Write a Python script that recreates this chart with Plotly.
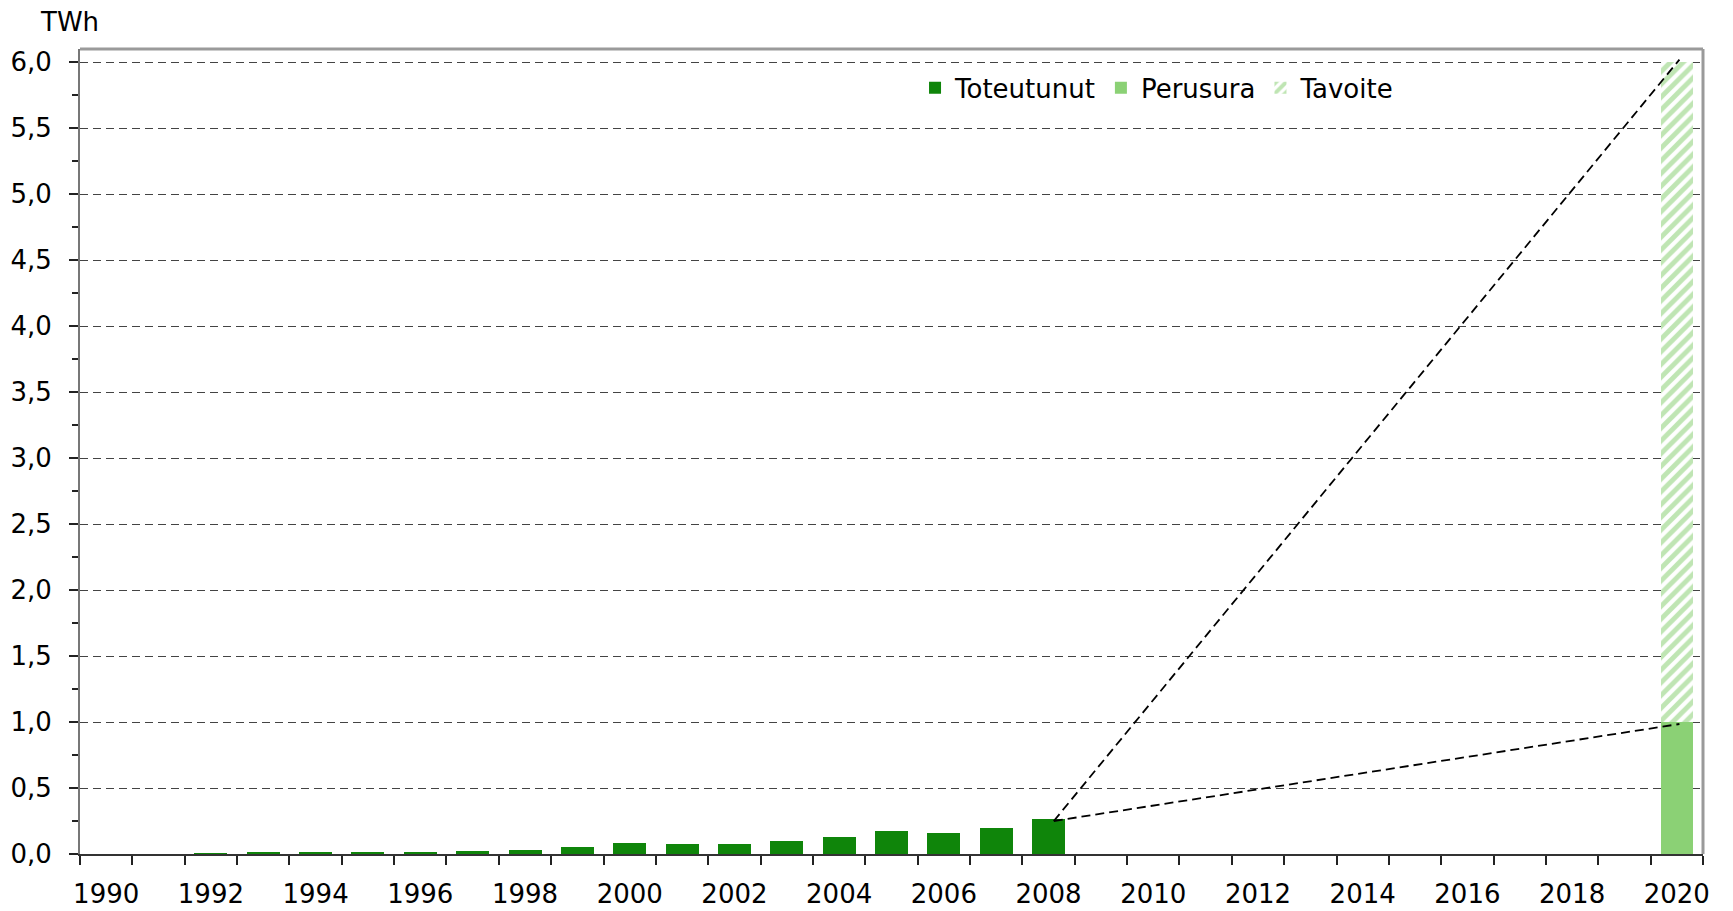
import plotly.graph_objects as go

# ---- data ----
years_actual = list(range(1992, 2009))
toteutunut = [0.007, 0.010, 0.013, 0.017, 0.018, 0.022, 0.028, 0.055, 0.086,
              0.078, 0.073, 0.101, 0.129, 0.174, 0.161, 0.194, 0.267]
year_target = [2020]
perusura = [1.0]
tavoite = [5.0]          # stacked on top of perusura -> 6.0
# dashed trend lines: start (2008 level) -> end (2020 levels)
line_x = [2008.1, 2020.05]
line_upper_y = [0.25, 6.02]
line_lower_y = [0.25, 0.985]
x_label_years = list(range(1990, 2021, 2))
x_tick_bounds = [y - 0.5 for y in range(1990, 2022)]
y_ticks = [i * 0.5 for i in range(13)]

DARK = "#0f850a"
LIGHT = "#8bd175"
FONT = "DejaVu Sans"
FS = 26

fig = go.Figure()
fig.add_trace(go.Bar(x=years_actual, y=toteutunut, name="Toteutunut",
                     marker=dict(color=DARK, line=dict(width=0)), width=0.63))
fig.add_trace(go.Bar(x=year_target, y=perusura, name="Perusura",
                     marker=dict(color=LIGHT, line=dict(width=0)), width=0.6))
fig.add_trace(go.Bar(x=year_target, y=tavoite, name="Tavoite",
                     marker=dict(color="white", line=dict(width=0),
                                 pattern=dict(shape="/", fgcolor="#7fcb68", bgcolor="white",
                                              size=9, solidity=0.55)),
                     width=0.6))
for yy in (line_upper_y, line_lower_y):
    fig.add_trace(go.Scatter(x=line_x, y=yy, mode="lines", showlegend=False,
                             hoverinfo="skip",
                             line=dict(color="black", width=1.8, dash="9px,5px")))

fig.update_layout(
    width=1733, height=911,
    margin=dict(l=80, r=30, t=49, b=57, autoexpand=False),
    paper_bgcolor="white", plot_bgcolor="white",
    barmode="stack",
    separators=", ",
    font=dict(family=FONT, size=FS, color="black"),
    showlegend=True,
    legend=dict(orientation="h", x=0.5145, y=0.9516, xanchor="left", yanchor="middle",
                font=dict(family=FONT, size=FS), bgcolor="rgba(0,0,0,0)",
                traceorder="normal", itemwidth=30),
)
fig.update_xaxes(
    range=[1989.5, 2020.5], tickmode="array", tickvals=x_label_years,
    ticktext=[str(y) for y in x_label_years], ticks="", showgrid=False,
    showline=True, linecolor="#333333", linewidth=2, zeroline=False,
    ticklabelstandoff=16,
    tickfont=dict(family=FONT, size=FS),
    minor=dict(tickmode="array", tickvals=x_tick_bounds, ticks="outside", ticklen=9,
               tickwidth=1.5, tickcolor="#222222", showgrid=False),
)
fig.update_yaxes(
    range=[0, 6.1], tickmode="array", tickvals=y_ticks, tickformat=".1f",
    ticks="outside", ticklen=9, tickwidth=1.5, tickcolor="#222222",
    showgrid=True, gridcolor="#444444", gridwidth=1, griddash="8px,5px",
    showline=True, linecolor="#777777", linewidth=2, zeroline=False,
    ticklabelstandoff=12,
    tickfont=dict(family=FONT, size=FS),
    minor=dict(dtick=0.25, tick0=0, ticks="outside", ticklen=6, tickwidth=1.5,
               tickcolor="#222222", showgrid=False),
)
# top and right frame of the plot area
fig.add_shape(type="line", xref="paper", yref="paper", x0=0, x1=1, y0=1, y1=1,
              line=dict(color="#9a9a9a", width=3))
fig.add_shape(type="line", xref="paper", yref="paper", x0=1, x1=1, y0=0, y1=1,
              line=dict(color="#9a9a9a", width=3))
fig.add_annotation(text="TWh", xref="paper", yref="paper", x=-0.026, y=1.0335,
                   xanchor="left", yanchor="middle", showarrow=False,
                   font=dict(family=FONT, size=FS))

fig.write_html("out.html", config={"displayModeBar": False},
               post_script="document.body.style.margin='0';document.body.style.overflow='hidden';")
